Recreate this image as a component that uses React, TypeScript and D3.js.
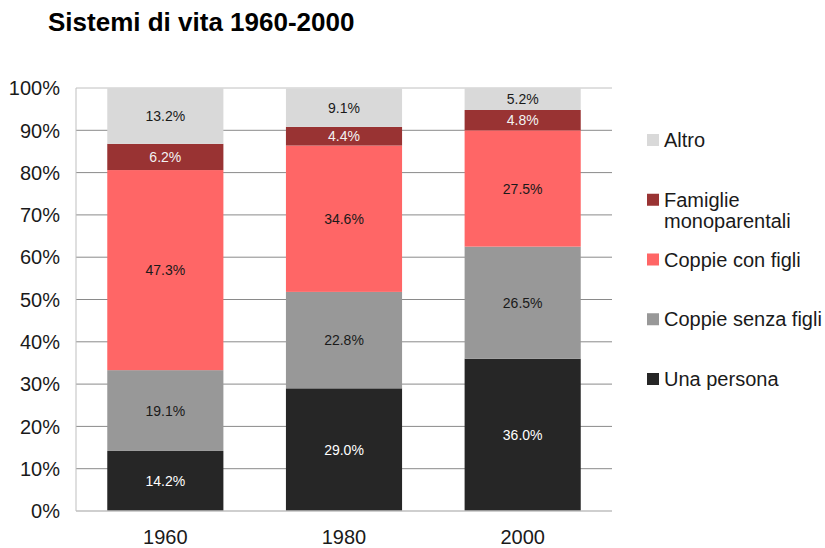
import React from "react";
import { scaleBand, scaleLinear, stack, range } from "d3";

const years = ["1960", "1980", "2000"];
const seriesNames = [
  "Una persona",
  "Coppie senza figli",
  "Coppie con figli",
  "Famiglie monoparentali",
  "Altro",
];
const unaPersona = [14.2, 29.0, 36.0];
const coppieSenzaFigli = [19.1, 22.8, 26.5];
const coppieConFigli = [47.3, 34.6, 27.5];
const famiglieMonoparentali = [6.2, 4.4, 4.8];
const altro = [13.2, 9.1, 5.2];
const yTicks = [0, 10, 20, 30, 40, 50, 60, 70, 80, 90, 100];

const colors = ["#262626", "#989898", "#ff6666", "#993333", "#d9d9d9"];
const labelColors = ["#ffffff", "#1a1a1a", "#1a1a1a", "#f2f2f2", "#1a1a1a"];
const legendLines = [
  ["Una persona"],
  ["Coppie senza figli"],
  ["Coppie con figli"],
  ["Famiglie", "monoparentali"],
  ["Altro"],
];

const W = 825;
const H = 548;
const margin = { top: 88, right: 213, bottom: 37, left: 76 };
const font = "Arial, 'Liberation Sans', sans-serif";

export default function App() {
  const plotW = W - margin.left - margin.right;
  const plotH = H - margin.top - margin.bottom;

  const rows = years.map((y, i) => ({
    year: y,
    "Una persona": unaPersona[i],
    "Coppie senza figli": coppieSenzaFigli[i],
    "Coppie con figli": coppieConFigli[i],
    "Famiglie monoparentali": famiglieMonoparentali[i],
    Altro: altro[i],
  }));
  const layers = stack<any>().keys(seriesNames)(rows);

  const x = scaleBand().domain(years).range([0, plotW]).paddingInner(0.35).paddingOuter(0.175);
  const y = scaleLinear().domain([0, 100]).range([plotH, 0]);

  return (
    <svg
      width={W}
      height={H}
      style={{ position: "absolute", left: 0, top: 0, background: "#fff" }}
      fontFamily={font}
    >
      <text x={48} y={31} fontSize={26} fontWeight="bold" fill="#000">
        Sistemi di vita 1960-2000
      </text>
      <g transform={`translate(${margin.left},${margin.top})`}>
        {yTicks.map((t) => (
          <g key={t}>
            {t > 0 && (
              <line
                x1={0}
                x2={plotW}
                y1={y(t)}
                y2={y(t)}
                stroke={t === 100 ? "#c0c0c0" : "#8a8a8a"}
                strokeWidth={1}
              />
            )}
            <text
              x={-16}
              y={y(t)}
              dy="0.36em"
              textAnchor="end"
              fontSize={20}
              fill="#1a1a1a"
            >
              {t}%
            </text>
          </g>
        ))}
        <line x1={0} x2={0} y1={0} y2={plotH} stroke="#bfbfbf" />
        {layers.map((layer, si) => (
          <g key={seriesNames[si]}>
            {layer.map((d: any, i: number) => (
              <rect
                key={i}
                x={x(years[i])}
                width={x.bandwidth()}
                y={y(d[1])}
                height={y(d[0]) - y(d[1])}
                fill={colors[si]}
              />
            ))}
            {layer.map((d: any, i: number) => (
              <text
                key={"l" + i}
                x={(x(years[i]) as number) + x.bandwidth() / 2}
                y={(y(d[0]) + y(d[1])) / 2}
                dy="0.36em"
                textAnchor="middle"
                fontSize={14}
                fill={labelColors[si]}
              >
                {(d[1] - d[0]).toFixed(1)}%
              </text>
            ))}
          </g>
        ))}
        <line x1={0} x2={plotW} y1={plotH} y2={plotH} stroke="#bfbfbf" strokeWidth={1.5} />
        {years.map((yr) => (
          <text
            key={yr}
            x={(x(yr) as number) + x.bandwidth() / 2}
            y={plotH + 33}
            textAnchor="middle"
            fontSize={20}
            fill="#1a1a1a"
          >
            {yr}
          </text>
        ))}
      </g>
      <g transform="translate(647,0)">
        {range(seriesNames.length).map((si) => {
          const top = 373 - si * 59.75;
          return (
            <g key={si}>
              <rect x={0} y={top} width={12} height={12} fill={colors[si]} />
              {legendLines[si].map((ln, li) => (
                <text key={li} x={17} y={top + 13 + li * 21} fontSize={20} fill="#1a1a1a">
                  {ln}
                </text>
              ))}
            </g>
          );
        })}
      </g>
    </svg>
  );
}
